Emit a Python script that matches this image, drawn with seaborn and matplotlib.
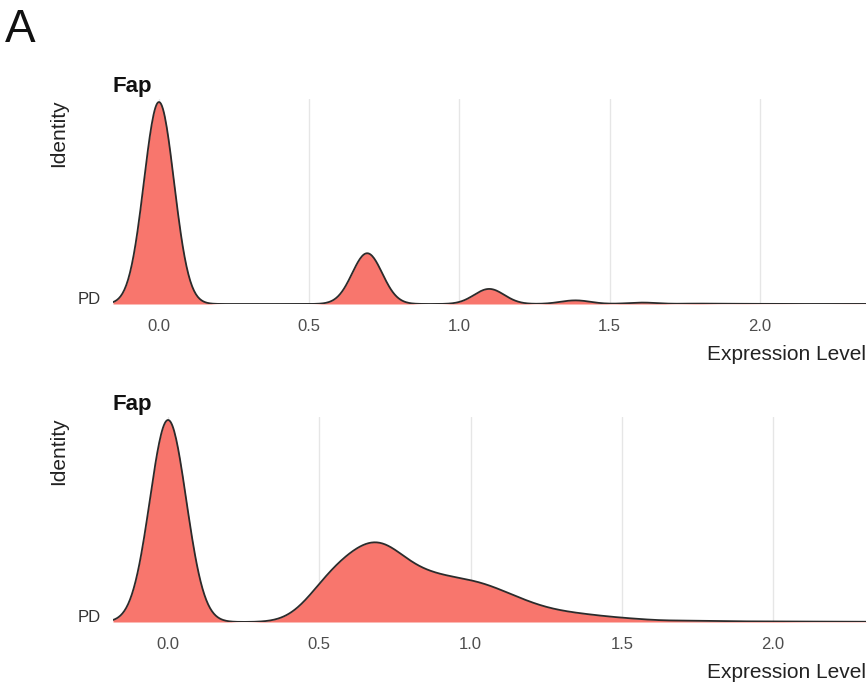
import numpy as np
import pandas as pd
import matplotlib
matplotlib.use("Agg")
import matplotlib.pyplot as plt
import seaborn as sns

# top panel: expression levels (log1p counts) and number of cells at each level
top_levels = [0.0, 0.693, 1.099, 1.386, 1.609, 1.792, 1.946, 2.079, 2.303]
top_cells = [2010, 505, 150, 36, 14, 4, 2, 1, 1]

# bottom panel: normalised expression, binned, cells per bin
bottom_levels = [0.0, 0.40, 0.45, 0.50, 0.55, 0.60, 0.65, 0.70, 0.75,
                 0.80, 0.85, 0.90, 0.95, 1.00, 1.05, 1.10, 1.15, 1.20, 1.25,
                 1.30, 1.35, 1.40, 1.45, 1.50, 1.55, 1.60, 1.70, 1.80, 1.90,
                 2.00, 2.10, 2.20, 2.30]
bottom_cells = [1000, 3, 24, 68, 96, 115, 135, 150, 122,
                93, 84, 78, 73, 70, 66, 52, 43, 31, 23,
                18, 15, 12, 9, 7, 5, 4, 5, 3, 2,
                2, 1, 1, 1]

gene = "Fap"
group = "PD"
xticks = [0.0, 0.5, 1.0, 1.5, 2.0]

sns.set_theme(style="white")
plt.rcParams["font.family"] = ["Liberation Sans", "DejaVu Sans"]

FILL = "#F8766D"
W, H = 867, 683

fig = plt.figure(figsize=(W / 100, H / 100), dpi=100)


def bw_for(levels, cells, sd):
    # gaussian_kde bandwidth factor giving a kernel sd of `sd`
    w = np.asarray(cells, float)
    w = w / w.sum()
    std = np.sqrt(np.cov(np.asarray(levels, float), aweights=w))
    return sd / std


def ridge(ax, levels, cells, sd, xlim):
    bw = bw_for(levels, cells, sd)
    kw = dict(x=levels, weights=cells, bw_method=bw, cut=6, clip=xlim,
              gridsize=800, ax=ax)
    sns.kdeplot(fill=True, color=FILL, alpha=1, linewidth=0, **kw)
    sns.kdeplot(fill=False, color="#2B2B2B", linewidth=1.3, **kw)
    top = ax.lines[-1].get_ydata().max()
    ax.set_xlim(*xlim)
    ax.set_ylim(0, top * 1.015)
    ax.set_xticks(xticks)
    ax.set_xticklabels([f"{t:.1f}" for t in xticks])
    ax.set_yticks([0])
    ax.set_yticklabels([group])
    ax.grid(axis="x", color="#E6E6E6", linewidth=1)
    ax.grid(axis="y", visible=False)
    ax.set_axisbelow(True)
    for s in ax.spines.values():
        s.set_visible(False)
    ax.tick_params(axis="x", length=0, pad=10.5, labelsize=12, labelcolor="#4D4D4D")
    ax.tick_params(axis="y", length=0, pad=9, labelsize=12, labelcolor="#333333")
    for lab in ax.get_yticklabels():
        lab.set_verticalalignment("baseline")
    ax.set_xlabel("Expression Level", loc="right", fontsize=15, labelpad=8.5, color="#222222")
    ax.set_ylabel("Identity", loc="top", fontsize=15, labelpad=6.5, color="#222222")
    ax.set_title(gene, loc="left", fontweight="bold", fontsize=16, pad=5, color="#111111")


ax1 = fig.add_axes([113 / W, 1 - 304 / H, 753 / W, 205 / H])
ridge(ax1, top_levels, top_cells, 0.05, (-0.153, 2.353))

ax2 = fig.add_axes([113 / W, 1 - 622 / H, 753 / W, 205 / H])
ridge(ax2, bottom_levels, bottom_cells, 0.06, (-0.182, 2.307))

fig.text(5 / W, 1 - 8 / H, "A", fontsize=33, ha="left", va="top", color="#111111")

fig.savefig("out.png", dpi=100)
